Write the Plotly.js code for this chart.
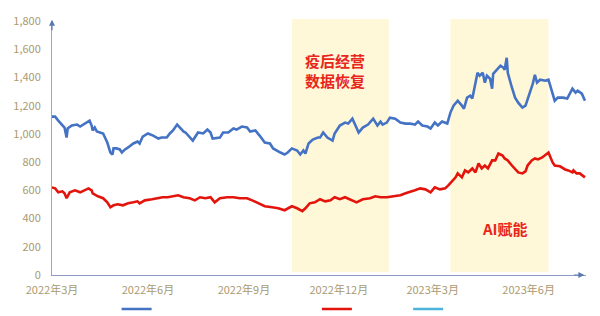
<!DOCTYPE html>
<html>
<head>
<meta charset="utf-8">
<script src="https://cdn.plot.ly/plotly-3.0.1.min.js"></script>
<style>html,body{margin:0;padding:0;background:#fff;}#chart{width:600px;height:316px;}</style>
</head>
<body>
<div id="chart"></div>
<script>
// Blue series
const blueDates = ['2022-03-01','2022-03-04','2022-03-07','2022-03-11','2022-03-13','2022-03-15','2022-03-16','2022-03-20','2022-03-25','2022-03-28','2022-03-31','2022-04-04','2022-04-06','2022-04-08','2022-04-09','2022-04-11','2022-04-13','2022-04-16','2022-04-19','2022-04-23','2022-04-26','2022-04-28','2022-04-29','2022-05-02','2022-05-05','2022-05-07','2022-05-10','2022-05-13','2022-05-18','2022-05-22','2022-05-24','2022-05-27','2022-06-01','2022-06-06','2022-06-11','2022-06-14','2022-06-19','2022-06-22','2022-06-25','2022-06-29','2022-07-02','2022-07-05','2022-07-07','2022-07-14','2022-07-19','2022-07-24','2022-07-28','2022-07-31','2022-08-02','2022-08-06','2022-08-09','2022-08-12','2022-08-17','2022-08-22','2022-08-25','2022-08-30','2022-09-04','2022-09-07','2022-09-12','2022-09-16','2022-09-21','2022-09-26','2022-09-29','2022-10-06','2022-10-10','2022-10-13','2022-10-17','2022-10-22','2022-10-25','2022-10-28','2022-10-30','2022-11-02','2022-11-06','2022-11-11','2022-11-13','2022-11-16','2022-11-20','2022-11-25','2022-11-27','2022-12-02','2022-12-07','2022-12-10','2022-12-14','2022-12-17','2022-12-20','2022-12-24','2022-12-29','2023-01-03','2023-01-07','2023-01-10','2023-01-12','2023-01-16','2023-01-19','2023-01-24','2023-01-29','2023-02-03','2023-02-07','2023-02-12','2023-02-15','2023-02-19','2023-02-24','2023-02-27','2023-03-03','2023-03-06','2023-03-10','2023-03-15','2023-03-18','2023-03-21','2023-03-23','2023-03-25','2023-03-29','2023-03-31','2023-04-03','2023-04-06','2023-04-08','2023-04-09','2023-04-13','2023-04-15','2023-04-18','2023-04-20','2023-04-22','2023-04-25','2023-04-27','2023-04-28','2023-05-02','2023-05-05','2023-05-08','2023-05-09','2023-05-11','2023-05-12','2023-05-16','2023-05-19','2023-05-22','2023-05-26','2023-05-29','2023-06-02','2023-06-05','2023-06-07','2023-06-09','2023-06-12','2023-06-17','2023-06-20','2023-06-24','2023-06-26','2023-06-29','2023-07-04','2023-07-08','2023-07-11','2023-07-13','2023-07-16','2023-07-18','2023-07-22','2023-07-25'];
const blueValues = [1122,1122,1094,1066,1045,974,1038,1059,1066,1052,1066,1087,1094,1059,1024,1045,1017,1010,1003,939,868,854,897,897,890,868,890,904,932,946,932,981,1003,988,967,974,974,1003,1024,1066,1038,1017,1010,953,1010,1003,1031,1010,967,974,974,1010,1010,1038,1031,1052,1045,1017,1024,988,939,932,897,868,854,868,897,882,854,882,861,932,960,974,974,1010,974,953,1003,1059,1080,1073,1108,1059,1010,1045,1066,1108,1059,1087,1066,1080,1115,1108,1080,1073,1073,1066,1087,1059,1052,1038,1080,1059,1087,1073,1151,1200,1221,1235,1200,1179,1257,1271,1250,1285,1433,1412,1433,1363,1412,1391,1320,1426,1461,1483,1468,1454,1539,1433,1327,1257,1221,1186,1200,1285,1356,1419,1363,1384,1377,1384,1271,1235,1257,1257,1250,1292,1320,1292,1306,1285,1235];

// Red series
const redDates = ['2022-03-01','2022-03-04','2022-03-07','2022-03-11','2022-03-13','2022-03-15','2022-03-18','2022-03-23','2022-03-28','2022-04-02','2022-04-05','2022-04-08','2022-04-09','2022-04-14','2022-04-19','2022-04-23','2022-04-26','2022-04-29','2022-05-03','2022-05-08','2022-05-13','2022-05-18','2022-05-22','2022-05-24','2022-05-29','2022-06-05','2022-06-10','2022-06-15','2022-06-20','2022-06-25','2022-06-30','2022-07-05','2022-07-11','2022-07-16','2022-07-21','2022-07-26','2022-07-31','2022-08-04','2022-08-09','2022-08-16','2022-08-22','2022-08-28','2022-09-04','2022-09-09','2022-09-15','2022-09-21','2022-09-28','2022-10-04','2022-10-10','2022-10-17','2022-10-22','2022-10-27','2022-10-30','2022-11-03','2022-11-08','2022-11-13','2022-11-18','2022-11-23','2022-11-27','2022-12-02','2022-12-07','2022-12-12','2022-12-18','2022-12-24','2022-12-31','2023-01-05','2023-01-10','2023-01-16','2023-01-22','2023-01-29','2023-02-03','2023-02-07','2023-02-12','2023-02-17','2023-02-22','2023-02-27','2023-03-03','2023-03-08','2023-03-13','2023-03-16','2023-03-20','2023-03-23','2023-03-25','2023-03-29','2023-04-01','2023-04-04','2023-04-08','2023-04-11','2023-04-14','2023-04-17','2023-04-20','2023-04-23','2023-04-27','2023-04-30','2023-05-03','2023-05-07','2023-05-09','2023-05-12','2023-05-16','2023-05-19','2023-05-22','2023-05-26','2023-05-29','2023-05-31','2023-06-04','2023-06-07','2023-06-10','2023-06-14','2023-06-17','2023-06-20','2023-06-24','2023-06-26','2023-07-01','2023-07-06','2023-07-09','2023-07-13','2023-07-14','2023-07-17','2023-07-20','2023-07-23','2023-07-25'];
const redValues = [621,614,586,593,579,544,586,600,586,607,614,600,579,558,544,515,480,494,501,494,508,515,522,508,529,537,544,551,551,558,565,551,544,529,551,544,551,515,544,551,551,544,544,529,508,487,480,473,459,487,473,452,473,508,515,537,522,529,551,537,551,537,515,537,544,558,551,551,558,565,579,586,600,614,607,586,621,607,614,635,671,692,720,692,741,727,755,727,791,755,776,755,812,812,861,847,826,812,776,755,727,720,734,776,812,826,819,833,854,868,798,776,770,748,741,727,741,720,720,699,692];

// Third (empty) legend series
const cyanDates = ['2022-03-01'];
const cyanValues = [null];

// Axis ticks
const xTickVals = ['2022-03-01','2022-06-01','2022-09-01','2022-12-01','2023-03-01','2023-06-01'];
const xTickText = ['2022年3月','2022年6月','2022年9月','2022年12月','2023年3月','2023年6月'];
const yTickVals = [0,200,400,600,800,1000,1200,1400,1600,1800];

// Highlighted periods
const periods = [['2022-10-17','2023-01-18'],['2023-03-18','2023-06-20']];
const periodLabels = [
  {x:'2022-11-27', y:1517, text:'疫后经营'},
  {x:'2022-11-27', y:1375, text:'数据恢复'},
  {x:'2023-05-09', y:332, text:'AI赋能'}
];

const tickColor = '#A99A70';
const font = 'Noto Sans CJK SC, Noto Sans, sans-serif';

const traces = [
  {x: blueDates, y: blueValues, type:'scatter', mode:'lines', name:' ', line:{color:'#4472C4', width:2.6}, legend:'legend'},
  {x: redDates, y: redValues, type:'scatter', mode:'lines', name:' ', line:{color:'#E3140C', width:2.6}, legend:'legend2'},
  {x: cyanDates, y: cyanValues, type:'scatter', mode:'lines', name:' ', line:{color:'#4DB5DC', width:2.6}, legend:'legend3'}
];

const shapes = periods.map(p => ({
  type:'rect', xref:'x', yref:'paper', x0:p[0], x1:p[1], y0:0.012, y1:1.008,
  fillcolor:'#FFF8D8', line:{width:0}, layer:'below'
}));

const annotations = periodLabels.map(a => ({
  x:a.x, y:a.y, xref:'x', yref:'y', text:'<b>'+a.text+'</b>', showarrow:false, borderpad:0,
  font:{family:font, size:15, color:'#E8261C'}, align:'center'
}));
// axis arrows
annotations.push({xref:'paper', yref:'paper', x:0, y:1.005, ax:0, ay:12, text:'', showarrow:true, arrowhead:2, arrowsize:1, arrowwidth:1.2, arrowcolor:'#5B79B0'});
annotations.push({xref:'paper', yref:'paper', x:0.997, y:0, ax:-12, ay:0, text:'', showarrow:true, arrowhead:2, arrowsize:1, arrowwidth:1.2, arrowcolor:'#5B79B0'});

const legendBase = {orientation:'h', yanchor:'middle', xanchor:'left', y:-0.134, bgcolor:'rgba(0,0,0,0)', font:{family:font, size:11, color:tickColor}};

const layout = {
  width:600, height:316,
  margin:{l:52, r:14, t:21, b:41, autoexpand:false},
  paper_bgcolor:'#fff', plot_bgcolor:'#fff',
  font:{family:font, size:11, color:tickColor},
  showlegend:true,
  legend: Object.assign({}, legendBase, {x:0.121}),
  legend2: Object.assign({}, legendBase, {x:0.496}),
  legend3: Object.assign({}, legendBase, {x:0.667}),
  xaxis:{type:'date', range:['2022-03-01','2023-07-26'], tickvals:xTickVals, ticktext:xTickText,
    showgrid:false, zeroline:false, showline:true, linecolor:'#8E9CC4', linewidth:1,
    ticks:'outside', ticklen:5, tickcolor:'rgba(0,0,0,0)', tickfont:{family:font, size:11, color:tickColor}},
  yaxis:{range:[0,1800], tickvals:yTickVals, tickformat:',d', showgrid:false, zeroline:false,
    showline:true, linecolor:'#A6A6A6', linewidth:1, ticks:'outside', ticklen:8, tickcolor:'rgba(0,0,0,0)',
    tickfont:{family:font, size:11, color:tickColor}},
  shapes: shapes,
  annotations: annotations
};

Plotly.newPlot('chart', traces, layout, {staticPlot:true, displayModeBar:false});
</script>
</body>
</html>
